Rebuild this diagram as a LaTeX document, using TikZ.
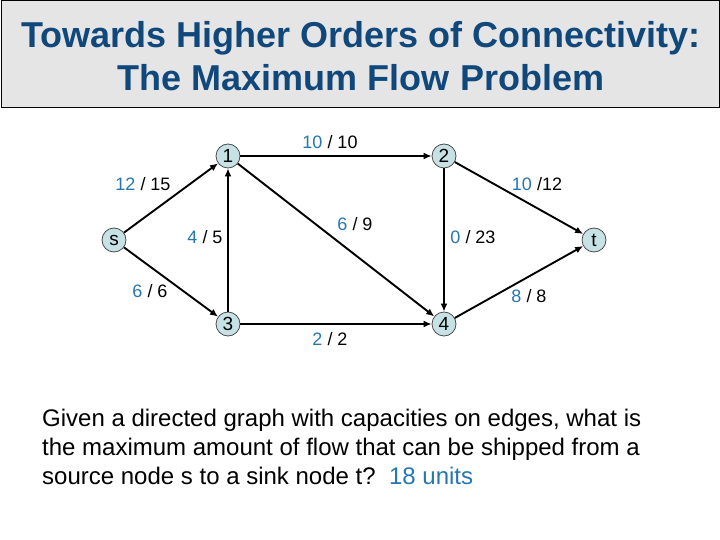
\documentclass[tikz,border=0pt]{standalone}
\usepackage{fontspec}
\setmainfont{Liberation Sans}
\usetikzlibrary{arrows.meta}
\definecolor{titleblue}{RGB}{16,72,124}
\definecolor{flowblue}{RGB}{38,118,176}
\definecolor{vertexfill}{RGB}{198,226,228}
\definecolor{headgray}{RGB}{229,229,229}
\newcommand{\flowval}[2]{{\color{flowblue}#1}#2}

\begin{document}
\begin{tikzpicture}[x=1pt, y=-1pt,
    vertex/.style={circle, draw=black!70, line width=0.8pt, fill=vertexfill,
        minimum size=24pt, inner sep=0pt, font=\fontsize{19}{20}\selectfont},
    arc/.style={line width=1.9pt, -{Latex[length=8pt, width=7pt]}},
    flowtag/.style={font=\fontsize{18}{20}\selectfont, inner sep=0pt}]
    \useasboundingbox (0,0) rectangle (720,540);

    % Title bar
    \draw[fill=headgray, line width=1pt] (1,1) rectangle (719,108);
    \node[font=\fontsize{36}{43}\selectfont\bfseries, text=titleblue, align=center] (title) at (361,56)
        {Towards Higher Orders of Connectivity:\\The Maximum Flow Problem};

    % Vertices
    \node[vertex] (s) at (114,240) {s};
    \node[vertex] (n1) at (228,156) {1};
    \node[vertex] (n2) at (444,156) {2};
    \node[vertex] (n3) at (228,324) {3};
    \node[vertex] (n4) at (444,324) {4};
    \node[vertex] (t) at (594,240) {t};

    % Arcs
    \draw[arc] (s) -- (n1);
    \draw[arc] (s) -- (n3);
    \draw[arc] (n3) -- (n1);
    \draw[arc] (n1) -- (n2);
    \draw[arc] (n1) -- (n4);
    \draw[arc] (n2) -- (n4);
    \draw[arc] (n3) -- (n4);
    \draw[arc] (n2) -- (t);
    \draw[arc] (n4) -- (t);

    % Flow / capacity labels
    \node[flowtag] (f12) at (330,142) {\flowval{10}{ / 10}};
    \node[flowtag] (fs1) at (143,184) {\flowval{12}{ / 15}};
    \node[flowtag] (f2t) at (537,184) {\flowval{10}{ /12}};
    \node[flowtag] (f31) at (205,237) {\flowval{4}{ / 5}};
    \node[flowtag] (f14) at (355,224) {\flowval{6}{ / 9}};
    \node[flowtag] (f24) at (473,237) {\flowval{0}{ / 23}};
    \node[flowtag] (fs3) at (150,291) {\flowval{6}{ / 6}};
    \node[flowtag] (f4t) at (529,296) {\flowval{8}{ / 8}};
    \node[flowtag] (f34) at (330,339) {\flowval{2}{ / 2}};

    % Question
    \node[font=\fontsize{24}{29}\selectfont, align=left, anchor=north west, inner sep=0pt] (question) at (42,409)
        {Given a directed graph with capacities on edges, what is\\
         the maximum amount of flow that can be shipped from a\\
         source node s to a sink node t?\ \ {\color{flowblue}18 units}};
\end{tikzpicture}
\end{document}
